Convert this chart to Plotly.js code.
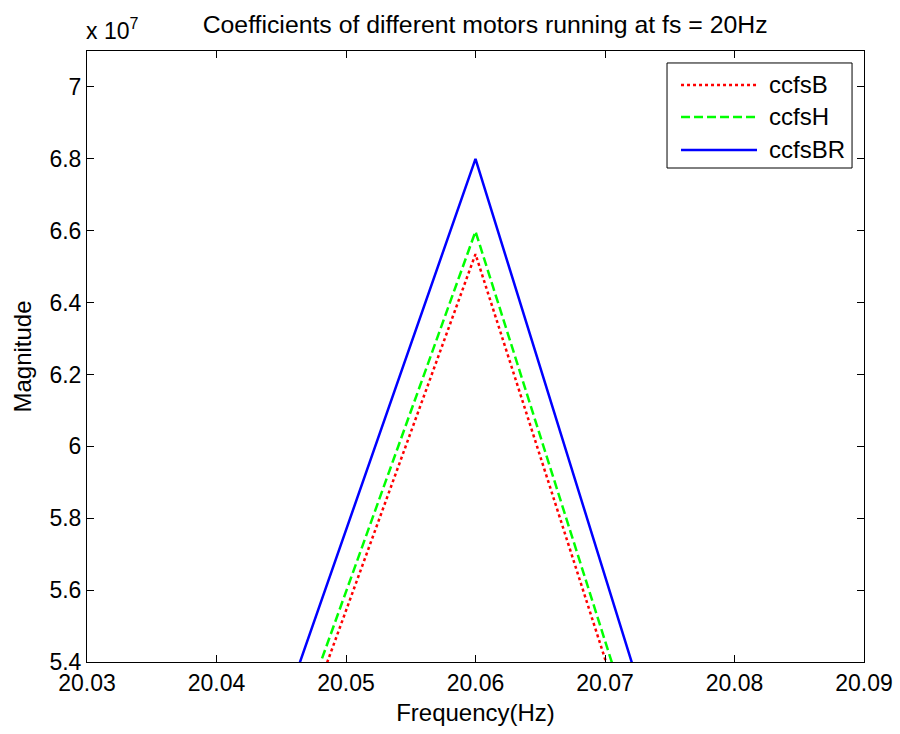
<!DOCTYPE html>
<html>
<head>
<meta charset="utf-8">
<script src="https://cdn.plot.ly/plotly-3.0.1.min.js"></script>
<style>html,body{margin:0;padding:0;background:#fff;}#chart{width:900px;height:734px;}</style>
</head>
<body>
<div id="chart"></div>
<script>
// Frequency (Hz)
const freq = [20.04, 20.06, 20.08];
// Magnitudes
const ccfsB  = [4.551e7, 6.535e7, 4.283e7];
const ccfsH  = [4.593e7, 6.598e7, 4.320e7];
const ccfsBR = [4.734e7, 6.800e7, 4.478e7];
const seriesNames = ['ccfsB', 'ccfsH', 'ccfsBR'];
const xTicks = [20.03, 20.04, 20.05, 20.06, 20.07, 20.08, 20.09];
const yTicks = [5.4e7, 5.6e7, 5.8e7, 6.0e7, 6.2e7, 6.4e7, 6.6e7, 6.8e7, 7.0e7];
const yTickText = ['5.4', '5.6', '5.8', '6', '6.2', '6.4', '6.6', '6.8', '7'];

const font = 'Liberation Sans, Arial, sans-serif';
const styles = [
  {color: '#ff0000', width: 2.5, dash: '3px,3px'},
  {color: '#00ff00', width: 2.5, dash: '9px,4px'},
  {color: '#0000ff', width: 2.5, dash: 'solid'}
];
const dataSets = [ccfsB, ccfsH, ccfsBR];
const traces = dataSets.map((ys, i) => ({
  x: freq, y: ys, name: seriesNames[i], mode: 'lines', line: styles[i], showlegend: false
}));

const axisCommon = {
  showgrid: false, zeroline: false, showline: true, linecolor: '#000', linewidth: 1,
  mirror: 'ticks', ticks: 'inside', ticklen: 7, tickcolor: '#000', tickwidth: 1,
  tickfont: {family: font, size: 23, color: '#000'}
};

// custom legend (MATLAB style, long line samples)
const legX0 = 0.7465, legX1 = 0.9846, legY0 = 0.8085, legY1 = 0.9804;
const rowY = [0.9444, 0.8920, 0.8380];
const shapes = [{type: 'rect', xref: 'paper', yref: 'paper', x0: legX0, x1: legX1, y0: legY0, y1: legY1,
                 line: {color: '#000', width: 1}, fillcolor: '#fff', layer: 'above'}];
const annotations = [];
seriesNames.forEach((n, i) => {
  shapes.push({type: 'line', xref: 'paper', yref: 'paper', x0: 0.7645, x1: 0.8623, y0: rowY[i], y1: rowY[i],
               line: styles[i], layer: 'above'});
  annotations.push({xref: 'paper', yref: 'paper', x: 0.8752, y: rowY[i], xanchor: 'left', yanchor: 'middle',
                    showarrow: false, text: n, font: {family: font, size: 24, color: '#000'}});
});
annotations.push({xref: 'paper', yref: 'paper', x: 0, y: 1, xanchor: 'left', yanchor: 'bottom', yshift: 5, xshift: -3,
  showarrow: false, text: 'x 10<sup>7</sup>', font: {family: font, size: 23, color: '#000'}});

const layout = {
  width: 900, height: 734,
  margin: {l: 87, r: 36, t: 51, b: 72},
  paper_bgcolor: '#fff', plot_bgcolor: '#fff',
  title: {text: 'Coefficients of different motors running at fs = 20Hz',
          font: {family: font, size: 24.8, color: '#000'}, x: 0.539, xanchor: 'center', y: 0.967, yanchor: 'middle'},
  xaxis: Object.assign({}, axisCommon, {
    range: [20.03, 20.09], tickvals: xTicks, ticktext: xTicks.map(v => v.toFixed(2)),
    title: {text: 'Frequency(Hz)', font: {family: font, size: 24, color: '#000'}, standoff: 9}
  }),
  yaxis: Object.assign({}, axisCommon, {
    range: [5.4e7, 7.1e7], tickvals: yTicks, ticktext: yTickText,
    title: {text: 'Magnitude', font: {family: font, size: 24, color: '#000'}, standoff: 11}
  }),
  showlegend: false,
  shapes: shapes,
  annotations: annotations
};
Plotly.newPlot('chart', traces, layout, {displayModeBar: false, staticPlot: true});
</script>
</body>
</html>
